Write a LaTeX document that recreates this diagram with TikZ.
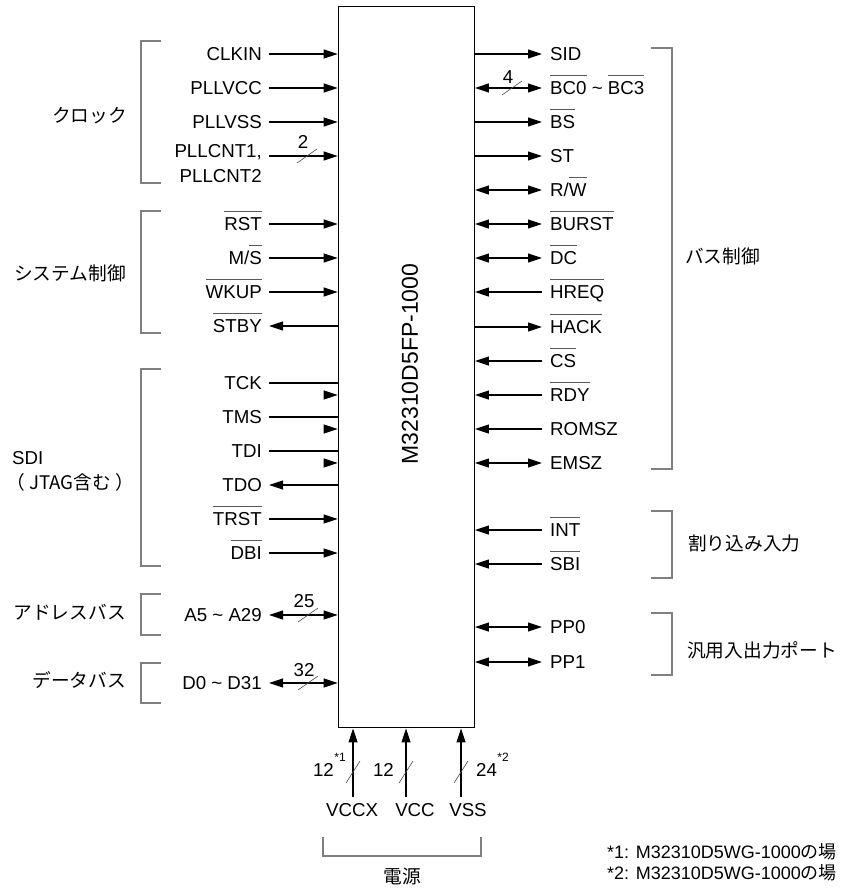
\documentclass[tikz,border=0pt]{standalone}
\usepackage{fontspec}
\setmainfont{Liberation Sans}
\newfontfamily\jpfont{Noto Sans CJK JP}
\usetikzlibrary{arrows.meta,positioning}
\newcommand{\picfont}{\fontsize{18.7pt}{22pt}\selectfont}
\newcommand{\negsig}[1]{\setbox0\hbox{#1}\rlap{\color{black!65}\rule[19pt]{\wd0}{0.8pt}}\box0\relax}
\newcommand{\tikzlpin}[4]{\node[lpin] (#1) at (269,#2) {#3}; \draw[#4] (#1.east -| chip.west) -- (#1.east);}
\newcommand{\tikzrpin}[4]{\node[rpin] (#1) at (542,#2) {#3}; \draw[#4] (#1.west -| chip.east) -- (#1.west);}
\newcommand{\tikzlgrp}[2]{\draw[grpline] (161,#1) -- (141,#1) -- (141,#2) -- (161,#2);}
\newcommand{\tikzrgrp}[2]{\draw[grpline] (651,#1) -- (672,#1) -- (672,#2) -- (651,#2);}
\newcommand{\tikzbus}[3]{\draw[busmark] (#1) ++(-10,7) -- ++(20,-14); \node[buswidth] at ([xshift=-4pt,yshift=#3]#1) {#2};}
\tikzset{
  chip/.style={draw, line width=1.3pt, minimum width=136pt, minimum height=721pt, inner sep=0pt},
  lpin/.style={anchor=east, inner xsep=7pt, inner ysep=0pt, text height=13.4pt, text depth=0pt},
  rpin/.style={anchor=west, inner xsep=8pt, inner ysep=0pt, text height=13.4pt, text depth=0pt},
  botpin/.style={inner sep=0pt, text height=13.4pt, text depth=0pt},
  grpname/.style={font=\picfont\jpfont, inner sep=0pt},
  grpline/.style={draw=black!50, line width=1.3pt},
  sigin/.style={{Triangle[length=14pt,width=9pt]}-, line width=1.1pt},
  sigout/.style={-{Triangle[length=14pt,width=9pt]}, line width=1.1pt},
  sigio/.style={{Triangle[length=14pt,width=9pt]}-{Triangle[length=14pt,width=9pt]}, line width=1.1pt},
  sigline/.style={line width=1.1pt},
  busmark/.style={draw=black!70, line width=0.6pt},
  buswidth/.style={inner sep=0pt, text height=13.4pt, text depth=0pt},
  note/.style={inner sep=0pt, text height=13pt, text depth=0pt, anchor=west, font=\fontsize{18pt}{22pt}\selectfont}
}
\begin{document}
\begin{tikzpicture}[x=1pt, y=-1pt, font=\picfont]
  \useasboundingbox (0,0) rectangle (840,888);
  \node[chip] (chip) at (406.3,367.3) {};
  \node[rotate=90, font=\fontsize{23pt}{23pt}\selectfont] (chipname) at (410,364) {M32310D5FP-1000};

  % left side
  \tikzlpin{clkin}{54}{CLKIN}{sigin}
  \tikzlpin{pllvcc}{88}{PLLVCC}{sigin}
  \tikzlpin{pllvss}{122}{PLLVSS}{sigin}
  \node[lpin] (pllcnt) at (269,151) {PLLCNT1,};
  \node[lpin] (pllcnt2) at (269,176) {PLLCNT2};
  \coordinate (pllcnt in) at (269,156);
  \draw[sigin] (pllcnt in -| chip.west) -- (pllcnt in);
  \tikzbus{307,156}{2}{14pt}
  \tikzlpin{rst}{224}{\negsig{RST}}{sigin}
  \tikzlpin{ms}{258}{M/\negsig{S}}{sigin}
  \tikzlpin{wkup}{292}{\negsig{WKUP}}{sigin}
  \tikzlpin{stby}{326}{\negsig{STBY}}{sigout}
  \tikzlpin{tck}{383}{TCK}{sigline}
  \tikzlpin{tms}{417}{TMS}{sigline}
  \tikzlpin{tdi}{451}{TDI}{sigline}
  \foreach \p in {tck,tms,tdi}{
    \path (\p.east -| chip.west) ++(0,12) coordinate (\p\space tip);
    \draw[sigin] (\p\space tip) -- ++(-14,0);
  }
  \tikzlpin{tdo}{485}{TDO}{sigout}
  \tikzlpin{trst}{519}{\negsig{TRST}}{sigin}
  \tikzlpin{dbi}{553}{\negsig{DBI}}{sigin}
  \tikzlpin{addr}{615}{A5 \textasciitilde{} A29}{sigio}
  \tikzbus{308,615}{25}{14pt}
  \tikzlpin{data}{683}{D0 \textasciitilde{} D31}{sigio}
  \tikzbus{308,683}{32}{13pt}

  \tikzlgrp{41}{183}
  \tikzlgrp{211}{333}
  \tikzlgrp{369}{566}
  \tikzlgrp{594}{635}
  \tikzlgrp{663}{703}
  \node[grpname, anchor=east] (clock) at (127,116) {クロック};
  \node[grpname, anchor=east] (sysctl) at (126,273) {システム制御};
  \node[botpin, anchor=west] (sdi) at (12,458) {SDI};
  \node[grpname, anchor=west] (jtag) at (6,482) {（ JTAG含む ）};
  \node[grpname, anchor=east] (addrbus) at (126,612) {アドレスバス};
  \node[grpname, anchor=east] (databus) at (126,680) {データバス};

  % right side
  \tikzrpin{sid}{54}{SID}{sigout}
  \tikzrpin{bc}{88}{\negsig{BC0} \textasciitilde{} \negsig{BC3}}{sigio}
  \tikzbus{512,88}{4}{11pt}
  \tikzrpin{bs}{122}{\negsig{BS}}{sigout}
  \tikzrpin{st}{156}{ST}{sigout}
  \tikzrpin{rw}{190}{R/\negsig{W}}{sigio}
  \tikzrpin{burst}{224}{\negsig{BURST}}{sigio}
  \tikzrpin{dc}{258}{\negsig{DC}}{sigio}
  \tikzrpin{hreq}{292}{\negsig{HREQ}}{sigin}
  \tikzrpin{hack}{327}{\negsig{HACK}}{sigout}
  \tikzrpin{cs}{361}{\negsig{CS}}{sigin}
  \tikzrpin{rdy}{395}{\negsig{RDY}}{sigin}
  \tikzrpin{romsz}{429}{ROMSZ}{sigin}
  \tikzrpin{emsz}{463}{EMSZ}{sigio}
  \tikzrpin{int}{530}{\negsig{INT}}{sigin}
  \tikzrpin{sbi}{564}{\negsig{SBI}}{sigin}
  \tikzrpin{pp0}{627}{PP0}{sigio}
  \tikzrpin{pp1}{662}{PP1}{sigio}

  \tikzrgrp{48}{469}
  \tikzrgrp{511}{578}
  \tikzrgrp{613}{675}
  \node[grpname, anchor=west] (busctl) at (685,256) {バス制御};
  \node[grpname, anchor=west] (intin) at (688,543) {割り込み入力};
  \node[grpname, anchor=west] (gpport) at (687,650) {汎用入出力ポート};

  % power pins
  \coordinate (vccx in) at (353,797);
  \coordinate (vcc in) at (406,797);
  \coordinate (vss in) at (461,797);
  \foreach \p in {vccx in,vcc in,vss in}
    \draw[sigin] (\p |- chip.south) -- (\p);
  \foreach \x in {353,406,461}
    \draw[busmark] (\x,772) ++(-7,11) -- ++(14,-22);
  \node[buswidth, anchor=east] (nvccx) at (334,770) {12};
  \node[inner sep=0pt, font=\fontsize{12pt}{12pt}\selectfont] (star1) at (340,757) {*1};
  \node[buswidth, anchor=east] (nvcc) at (394,770) {12};
  \node[buswidth, anchor=west] (nvss) at (476,770) {24};
  \node[inner sep=0pt, font=\fontsize{12pt}{12pt}\selectfont] (star2) at (503,757) {*2};
  \node[botpin] (vccx) at (352,810) {VCCX};
  \node[botpin] (vcc) at (415,810) {VCC};
  \node[botpin] (vss) at (468,810) {VSS};
  \draw[grpline] (323,837) -- (323,856) -- (481,856) -- (481,837);
  \node[grpname] (power) at (402,876) {電源};

  % footnotes
  \node[note] (note1) at (607,852) {*1: M32310D5WG-1000{\jpfont の場}};
  \node[note] (note2) at (607,873) {*2: M32310D5WG-1000{\jpfont の場}};
\end{tikzpicture}
\end{document}
